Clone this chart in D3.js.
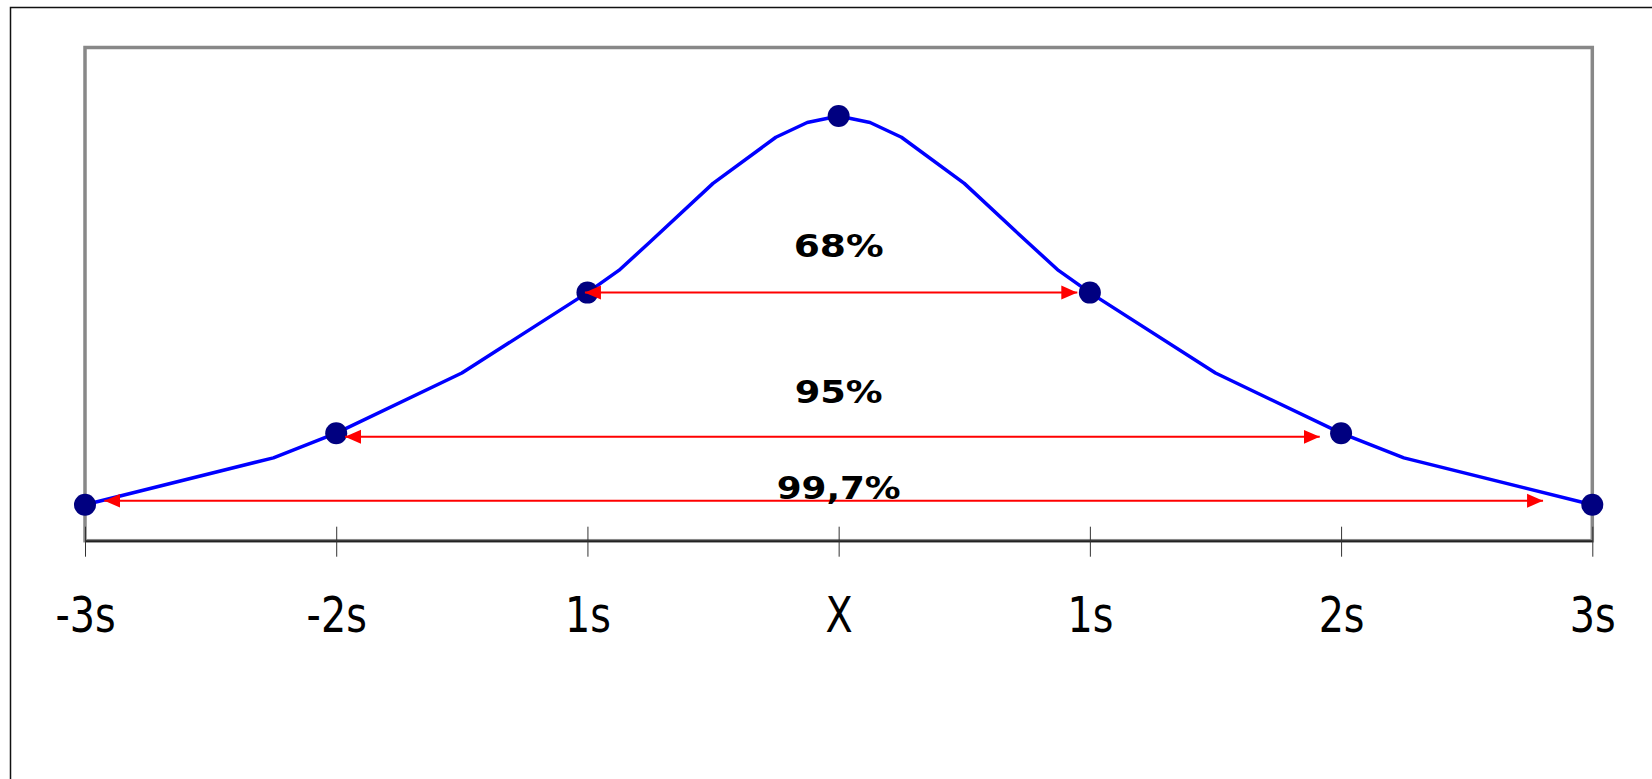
<!DOCTYPE html>
<html>
<head>
<meta charset="utf-8">
<script src="https://cdn.jsdelivr.net/npm/d3@7"></script>
<style>
  body { margin: 0; background: #fff; }
  svg { display: block; }
</style>
</head>
<body>
<div id="chart"></div>
<script>
// values (x in units of s, y as share of plot height)
const tickValues = [-3, -2, -1, 0, 1, 2, 3];
const tickLabels = ["-3s", "-2s", "1s", "X", "1s", "2s", "3s"];

const curveX = [-3, -2.25, -2, -1.5, -1, -0.875, -0.75, -0.5, -0.25, -0.125, 0,
                0.125, 0.25, 0.5, 0.75, 0.875, 1, 1.5, 2, 2.25, 3];
const curveY = [0.073, 0.168, 0.218, 0.340, 0.503, 0.548, 0.606, 0.7245, 0.818, 0.848, 0.861,
                0.848, 0.818, 0.7245, 0.606, 0.548, 0.503, 0.340, 0.218, 0.168, 0.073];

const dotX = [-3, -2, -1, 0, 1, 2, 3];
const dotY = [0.073, 0.218, 0.503, 0.861, 0.503, 0.218, 0.073];

const bandLabels = ["68%", "95%", "99,7%"];
const bandFrom = [-1.01, -1.965, -2.923];
const bandTo = [0.95, 1.915, 2.804];
const bandLevel = [0.503, 0.2107, 0.081];
const bandLabelLevel = [0.575, 0.2795, 0.0845];
const bandLabelWidth = [90, 88, 124];

const W = 1652, H = 779;
const margin = { top: 47.5, left: 85, right: W - 1592.3, bottom: H - 540.7 };
const width = W - margin.left - margin.right;
const height = H - margin.top - margin.bottom;

const svg = d3.select("#chart")
  .append("svg")
  .attr("width", W)
  .attr("height", H);

// outer frame (runs off the right and bottom of the window)
svg.append("rect")
  .attr("x", 10.5)
  .attr("y", 7.5)
  .attr("width", 1700)
  .attr("height", 900)
  .attr("fill", "none")
  .attr("stroke", "#111")
  .attr("stroke-width", 1.5);

const defs = svg.append("defs");
defs.append("marker")
  .attr("id", "head")
  .attr("markerUnits", "userSpaceOnUse")
  .attr("viewBox", "0 -8 16 16")
  .attr("markerWidth", 16)
  .attr("markerHeight", 16)
  .attr("refX", 16)
  .attr("refY", 0)
  .attr("orient", "auto-start-reverse")
  .append("path")
  .attr("d", "M0,-7L16,0L0,7Z")
  .attr("fill", "#ff0000");

const g = svg.append("g")
  .attr("transform", `translate(${margin.left}, ${margin.top})`);

const xScale = d3.scaleLinear()
  .domain([-3, 3])
  .range([0, width]);

const yScale = d3.scaleLinear()
  .domain([0, 1])
  .range([height, 0]);

// plot box
g.append("rect")
  .attr("x", 0)
  .attr("y", 0)
  .attr("width", width)
  .attr("height", height)
  .attr("fill", "none")
  .attr("stroke", "#888")
  .attr("stroke-width", 3.5);

// x axis
const xAxis = g.append("g")
  .attr("transform", `translate(0, ${height})`)
  .call(d3.axisBottom(xScale)
    .tickValues(tickValues)
    .tickFormat((d, i) => tickLabels[i])
    .tickSizeInner(16)
    .tickSizeOuter(0));

xAxis.select(".domain")
  .attr("stroke", "#222")
  .attr("stroke-width", 2);

xAxis.selectAll(".tick line")
  .attr("y1", -14)
  .attr("y2", 16)
  .attr("stroke", "#333")
  .attr("stroke-width", 1);

xAxis.selectAll(".tick text")
  .attr("dy", null)
  .attr("y", 91)
  .attr("fill", "#000")
  .style("font-family", "'Liberation Sans Narrow', 'DejaVu Sans Condensed', sans-serif")
  .style("font-size", "49px")
  .each(function () {
    // the original face is narrower, squeeze a little
    const len = this.getComputedTextLength();
    d3.select(this)
      .attr("textLength", len * 0.9)
      .attr("lengthAdjust", "spacingAndGlyphs");
  });

// curve
const curveData = curveX.map((x, i) => ({ x: x, y: curveY[i] }));
const line = d3.line()
  .x((d) => xScale(d.x))
  .y((d) => yScale(d.y));

g.append("path")
  .datum(curveData)
  .attr("d", line)
  .attr("fill", "none")
  .attr("stroke", "#0000ff")
  .attr("stroke-width", 3.5)
  .attr("stroke-linejoin", "round");

// dots
g.selectAll("circle.dot")
  .data(dotX.map((x, i) => ({ x: x, y: dotY[i] })))
  .enter()
  .append("circle")
  .attr("class", "dot")
  .attr("cx", (d) => xScale(d.x))
  .attr("cy", (d) => yScale(d.y))
  .attr("r", 11)
  .attr("fill", "#000080");

// red double arrows
const bands = bandLabels.map((label, i) => ({
  label: label,
  from: bandFrom[i],
  to: bandTo[i],
  level: bandLevel[i],
  labelLevel: bandLabelLevel[i],
  labelWidth: bandLabelWidth[i]
}));

g.selectAll("line.band")
  .data(bands)
  .enter()
  .append("line")
  .attr("class", "band")
  .attr("x1", (d) => xScale(d.from))
  .attr("x2", (d) => xScale(d.to))
  .attr("y1", (d) => yScale(d.level))
  .attr("y2", (d) => yScale(d.level))
  .attr("stroke", "#ff0000")
  .attr("stroke-width", 2)
  .attr("marker-start", "url(#head)")
  .attr("marker-end", "url(#head)");

g.selectAll("text.band")
  .data(bands)
  .enter()
  .append("text")
  .attr("class", "band")
  .attr("x", xScale(0))
  .attr("y", (d) => yScale(d.labelLevel))
  .attr("text-anchor", "middle")
  .attr("textLength", (d) => d.labelWidth)
  .attr("lengthAdjust", "spacingAndGlyphs")
  .style("font-family", "'DejaVu Sans', sans-serif")
  .style("font-weight", "bold")
  .style("font-size", "32px")
  .attr("fill", "#000")
  .text((d) => d.label);
</script>
</body>
</html>
